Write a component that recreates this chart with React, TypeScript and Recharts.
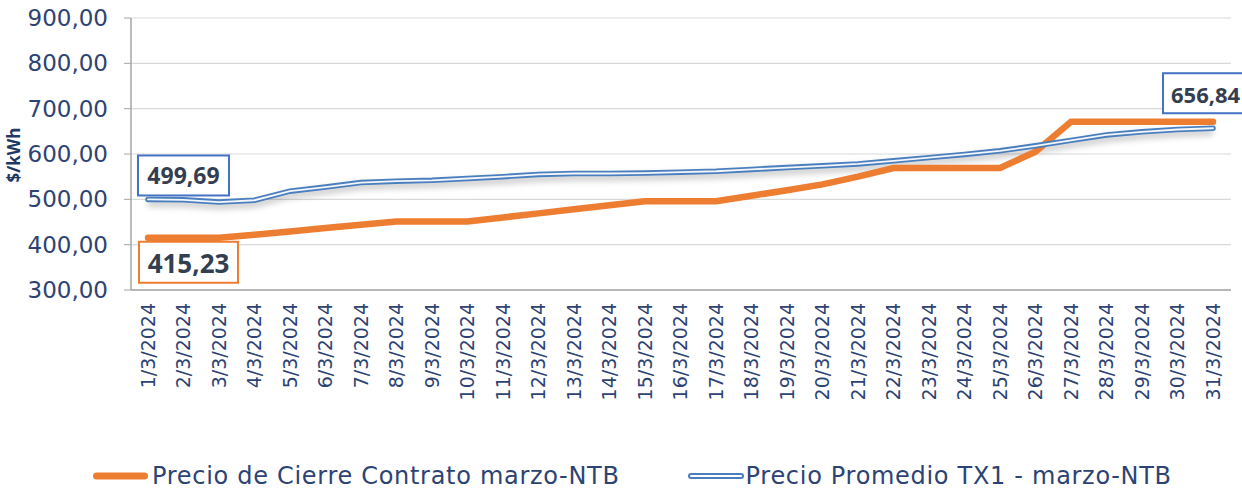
import React from 'react';
import { LineChart, Line, XAxis, YAxis, CartesianGrid, Legend } from 'recharts';

const days = [
  '1/3/2024', '2/3/2024', '3/3/2024', '4/3/2024', '5/3/2024', '6/3/2024', '7/3/2024', '8/3/2024',
  '9/3/2024', '10/3/2024', '11/3/2024', '12/3/2024', '13/3/2024', '14/3/2024', '15/3/2024', '16/3/2024',
  '17/3/2024', '18/3/2024', '19/3/2024', '20/3/2024', '21/3/2024', '22/3/2024', '23/3/2024', '24/3/2024',
  '25/3/2024', '26/3/2024', '27/3/2024', '28/3/2024', '29/3/2024', '30/3/2024', '31/3/2024',
];

// Precio de Cierre Contrato marzo-NTB
const cierre = [
  415.23, 415.23, 415.23, 422, 429, 437, 444, 451, 451, 451, 460, 469, 478, 487, 496, 496,
  496, 508, 520, 533, 550, 569, 569, 569, 569, 605, 671, 671, 671, 671, 671,
];

// Precio Promedio TX1 - marzo-NTB
const promedio = [
  499.69, 499, 494, 498, 518, 527, 537, 540, 542, 546, 550, 555, 557, 557, 558, 560,
  562, 566, 570, 574, 578, 585, 592, 599, 607, 618, 630, 642, 649, 654, 656.84,
];

const yTicks = [300, 400, 500, 600, 700, 800, 900];
const seriesNames = ['Precio de Cierre Contrato marzo-NTB', 'Precio Promedio TX1 - marzo-NTB'];

const ORANGE = '#ED7D31';
const BLUE = '#4A7FBF';
const BOX_BLUE = '#4472C4';
const NAVY = '#2D4373';
const LABEL_TEXT = '#333F50';
const FONT = 'DejaVu Sans';

const data = days.map((day, i) => ({ day, cierre: cierre[i], promedio: promedio[i] }));

const fmt = (v: number) => v.toFixed(2).replace('.', ',');

const cierreLabel = (props: any) => {
  const { x, y, index, value } = props;
  if (index !== 0) return null;
  return (
    <g>
      <rect x={x - 9} y={y + 4} width={99} height={41} fill="#fff" stroke={ORANGE} strokeWidth={2} />
      <text x={x + 40.5} y={y + 35} textAnchor="middle" fontFamily="Open Sans" fontWeight={700} fontSize={26} fill={LABEL_TEXT}>
        {fmt(value)}
      </text>
    </g>
  );
};

const promedioLabel = (props: any) => {
  const { x, y, index, value } = props;
  if (index === 0) {
    return (
      <g>
        <rect x={x - 10} y={y - 44} width={91} height={40} fill="#fff" stroke={BOX_BLUE} strokeWidth={2} />
        <text x={x + 35.5} y={y - 15} textAnchor="middle" fontFamily="Open Sans" fontWeight={700} fontSize={23} fill={LABEL_TEXT}>
          {fmt(value)}
        </text>
      </g>
    );
  }
  if (index === days.length - 1) {
    // box runs past the right edge, as in the source image
    return (
      <g>
        <rect x={x - 50} y={y - 55} width={100} height={40} fill="#fff" stroke={BOX_BLUE} strokeWidth={2} />
        <text x={x - 42} y={y - 25} textAnchor="start" fontFamily="Open Sans" fontWeight={700} fontSize={22} fill={LABEL_TEXT}>
          {fmt(value)}
        </text>
      </g>
    );
  }
  return null;
};

const DateTick = (props: any) => {
  const { x, y, payload } = props;
  return (
    <g transform={`translate(${x},${y})`}>
      <text transform="rotate(-90)" textAnchor="end" dy="0.36em" fontFamily={FONT} fontSize={19} fill={NAVY}>
        {payload.value}
      </text>
    </g>
  );
};

const renderLegend = () => (
  <div style={{ display: 'flex', alignItems: 'center', height: 30, paddingLeft: 92, fontFamily: FONT, fontSize: 24, letterSpacing: 0.7, color: NAVY, whiteSpace: 'nowrap' }}>
    <svg width={60} height={12}>
      <line x1={4.5} y1={6} x2={52.5} y2={6} stroke={ORANGE} strokeWidth={7} strokeLinecap="round" />
    </svg>
    <span>{seriesNames[0]}</span>
    <svg width={60} height={12} style={{ marginLeft: 66 }}>
      <line x1={5} y1={6} x2={55} y2={6} stroke={BLUE} strokeWidth={6} strokeLinecap="round" />
      <line x1={5} y1={6} x2={55} y2={6} stroke="#fff" strokeWidth={2} strokeLinecap="round" />
    </svg>
    <span>{seriesNames[1]}</span>
  </div>
);

export default function App() {
  return (
    <div style={{ position: 'absolute', left: 0, top: 0, width: 1242, height: 491, background: '#fff' }}>
      <LineChart width={1242} height={491} data={data} margin={{ top: 18, right: 11, left: 0, bottom: 0 }}>
        <defs>
          <filter id="lineShadow" x="-5%" y="-50%" width="110%" height="200%">
            <feGaussianBlur stdDeviation="3" />
            <feOffset dy="4" />
          </filter>
        </defs>
        <CartesianGrid horizontal vertical={false} stroke="#D9D9D9" strokeWidth={1.2} />
        <XAxis
          dataKey="day"
          interval={0}
          tick={<DateTick />}
          tickLine={false}
          tickSize={0}
          tickMargin={13}
          height={171}
          padding={{ left: 17, right: 18 }}
          axisLine={{ stroke: '#A6A6A6', strokeWidth: 1.5 }}
        />
        <YAxis
          width={131}
          domain={[300, 900]}
          ticks={yTicks}
          interval={0}
          tickFormatter={fmt}
          tickSize={7}
          tickMargin={16}
          tick={{ fill: NAVY, fontSize: 23, fontFamily: FONT }}
          tickLine={{ stroke: '#A6A6A6' }}
          axisLine={{ stroke: '#A6A6A6', strokeWidth: 1.5 }}
          label={{
            content: () => (
              <text x={20} y={155} transform="rotate(-90, 20, 155)" textAnchor="middle" fontFamily="Open Sans" fontWeight={700} fontSize={17} fill="#1F3864">
                $/kWh
              </text>
            ),
          }}
        />
        <Legend verticalAlign="bottom" height={30} content={renderLegend} />
        <Line
          dataKey="promedio"
          stroke="#000"
          strokeOpacity={0.22}
          strokeWidth={6}
          dot={false}
          filter="url(#lineShadow)"
          legendType="none"
          isAnimationActive={false}
        />
        <Line
          dataKey="cierre"
          name={seriesNames[0]}
          stroke={ORANGE}
          strokeWidth={6.5}
          strokeLinecap="round"
          dot={false}
          label={cierreLabel}
          isAnimationActive={false}
        />
        <Line
          dataKey="promedio"
          name={seriesNames[1]}
          stroke={BLUE}
          strokeWidth={5.5}
          strokeLinecap="round"
          dot={false}
          isAnimationActive={false}
        />
        <Line
          dataKey="promedio"
          stroke="#F4F6F9"
          strokeWidth={1.8}
          strokeLinecap="round"
          dot={false}
          legendType="none"
          label={promedioLabel}
          isAnimationActive={false}
        />
      </LineChart>
    </div>
  );
}
